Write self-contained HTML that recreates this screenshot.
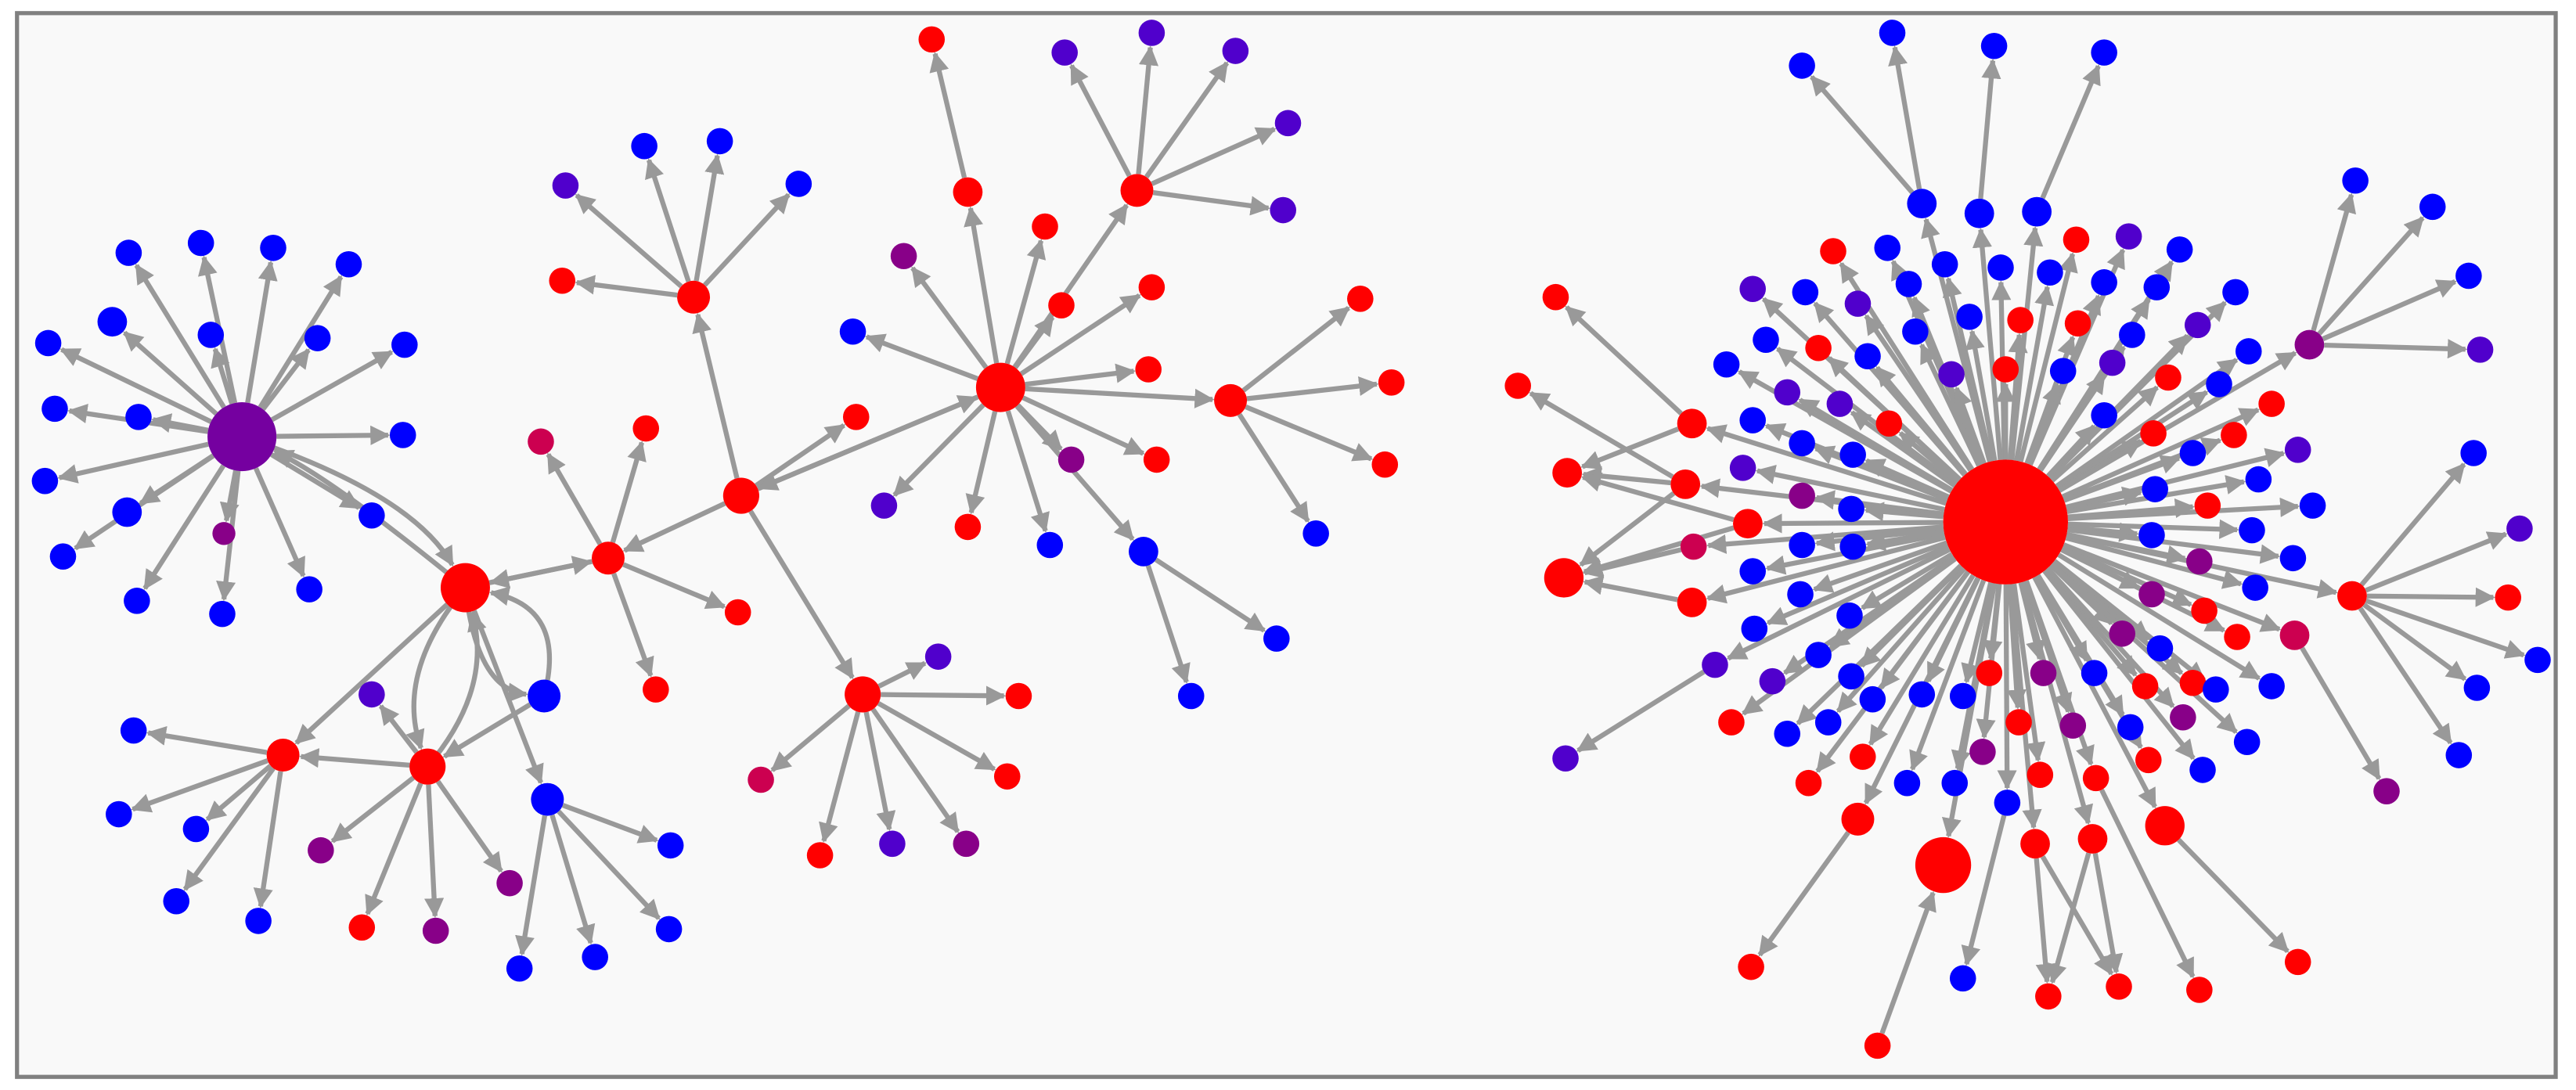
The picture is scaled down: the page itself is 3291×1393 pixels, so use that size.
<!DOCTYPE html>
<html><head><meta charset="utf-8"><style>
html,body{margin:0;padding:0;background:#fff;}
svg{display:block;}
</style></head><body>
<svg id="g" width="3291" height="1393" viewBox="0 0 1568 664" xmlns="http://www.w3.org/2000/svg">
<defs><marker id="a" viewBox="0 0 10 10" refX="9" refY="5" markerWidth="4" markerHeight="4" markerUnits="strokeWidth" orient="auto"><path d="M0,0L10,5L0,10z" fill="#999"/></marker></defs>
<rect x="10" y="8" width="1546" height="648" fill="#f9f9f9" stroke="#808080" stroke-width="2.5"/>
<g id="E" stroke="#999" stroke-width="3" fill="none"></g>
<g id="V"></g>
</svg>
<script>
const C={b:'#0000ff',r:'#ff0000',p:'#7500a0',i:'#5000cc',c:'#cc0050',m:'#880088'};
const N={};
function n(x,y,c,r){r=r||8;N[x+','+y]={x,y,r,c:C[c]};return N[x+','+y];}
function g(x,y){return N[x+','+y];}
const E=document.getElementById('E'),V=document.getElementById('V');
const ns='http://www.w3.org/2000/svg';
function edge(a,b){const dx=b.x-a.x,dy=b.y-a.y,d=Math.hypot(dx,dy);const s=a.r/d,t=(b.r+1)/d;
 const l=document.createElementNS(ns,'line');l.setAttribute('x1',a.x+dx*s);l.setAttribute('y1',a.y+dy*s);l.setAttribute('x2',b.x-dx*t);l.setAttribute('y2',b.y-dy*t);l.setAttribute('marker-end','url(#a)');E.appendChild(l);}
function curve(a,b,cx,cy){const dx=b.x-cx,dy=b.y-cy,d=Math.hypot(dx,dy);const ex=b.x-dx*(b.r+1)/d,ey=b.y-dy*(b.r+1)/d;
 const p=document.createElementNS(ns,'path');p.setAttribute('d',`M${a.x},${a.y}Q${cx},${cy} ${ex},${ey}`);p.setAttribute('marker-end','url(#a)');E.appendChild(p);}
function T(par,kids){kids.forEach(k=>{const c=n(k[0],k[1],k[2]||'b',k[3]);edge(par,c);});}
// LEFT
const P1=n(147,266,'p',21),R1=n(283,358,'r',15),R2=n(370,340,'r',10),R3=n(451,302,'r',11),R4=n(422,181,'r',10),
R5=n(609,236,'r',15),R6=n(525,423,'r',11),R7=n(260,467,'r',11),R8=n(172,460,'r',10),B1=n(331,424,'b',10),B2=n(333,487,'b',10),
R9=n(589,117,'r',9),R10=n(692,116,'r',10),R11=n(749,244,'r',10),B3=n(696,336,'b',9);
T(P1,[[78,154],[122,148],[166,151],[212,161],[246,210],[245,265],[226,314],[188,359],[135,374],[83,366],[38,339],[27,293],[33,249],[29,209],[68,196,'b',9],[128,204],[193,206],[84,254],[77,312,'b',9],[136,325,'m',7]]);
curve(P1,R1,250,300);curve(R1,P1,200,290);
edge(R2,R1);edge(R1,R2);edge(R3,R2);
T(R2,[[329,269,'c'],[393,261,'r'],[449,373,'r'],[399,420,'r']]);
edge(R3,R4);T(R4,[[344,113,'i'],[392,89],[438,86],[486,112],[342,171,'r']]);
edge(R3,R5);T(R3,[[521,254,'r']]);edge(R5,R3);edge(R3,R6);
T(R6,[[571,400,'i'],[620,424,'r'],[613,473,'r'],[588,514,'m'],[543,514,'i'],[499,521,'r'],[463,475,'c']]);
edge(R5,R9);T(R9,[[567,24,'r']]);edge(R5,R10);
T(R10,[[648,32,'i'],[701,20,'i'],[752,31,'i'],[784,75,'i'],[781,128,'i']]);
T(R5,[[636,138,'r'],[646,186,'r'],[701,175,'r'],[699,225,'r'],[704,280,'r'],[652,280,'m'],[639,332],[589,321,'r'],[538,308,'i'],[519,202],[550,156,'m']]);
edge(R5,R11);T(R11,[[828,182,'r'],[847,233,'r'],[843,283,'r'],[801,325]]);
edge(R5,B3);T(B3,[[777,389],[725,424]]);
curve(R1,B1,290,420);curve(B1,R1,345,370);edge(R1,B2);
T(B2,[[408,515],[407,566],[362,583],[316,590]]);
curve(R1,R7,240,410);curve(R7,R1,300,420);edge(B1,R7);edge(R1,R8);edge(R7,R8);
T(R7,[[226,423,'i'],[195,518,'m'],[220,565,'r'],[265,567,'m'],[310,538,'m']]);
T(R8,[[81,445],[72,496],[119,505],[107,549],[157,561]]);
// RIGHT
const H=n(1221,318,'r',38);
const ring=[[1170,124,'b',9],[1205,130,'b',9],[1240,129,'b',9],[1264,146,'r'],[1296,144,'i'],[1327,152],[1116,153,'r'],[1149,151],[1184,161],[1218,163],[1248,166],[1281,172],[1313,175],[1067,176,'i'],[1099,178],[1131,185,'i'],[1162,173],[1199,193],[1230,195,'r'],[1265,197,'r'],[1298,204],[1338,198,'i'],[1361,178],[1075,207],[1107,212,'r'],[1137,217],[1166,202],[1188,228,'i'],[1221,225,'r'],[1256,226],[1286,221,'i'],[1320,230,'r'],[1351,234],[1369,214],[1051,222],[1088,239,'i'],[1120,246,'i'],[1150,258,'r'],[1281,253],[1311,264,'r'],[1335,276],[1360,265,'r'],[1383,246,'r'],[1406,210,'m',9],[1030,258,'r',9],[1067,256],[1097,270],[1128,277],[1061,285,'i'],[1026,295,'r',9],[1064,319,'r',9],[1097,302,'m'],[1127,310],[1312,298],[1344,308,'r'],[1375,292],[1399,274,'i'],[1408,308],[1031,333,'c'],[1067,348],[1097,332],[1128,333],[1310,326],[1339,342,'m'],[1371,323],[1396,340],[1030,367,'r',9],[1068,383],[1096,362],[1126,375],[1310,362,'m'],[1342,372,'r'],[1373,358],[1432,363,'r',9],[1044,405,'i'],[1079,415,'i'],[1107,399],[1127,412],[1292,386,'m'],[1315,395],[1362,388,'r'],[1397,387,'c',9],[1054,440,'r'],[1088,447],[1113,440],[1140,426],[1170,423],[1195,424],[1211,410,'r'],[1244,410,'m'],[1275,410],[1306,418,'r'],[1335,416,'r'],[1349,420],[1383,418],[1134,461,'r'],[1161,477],[1190,477],[1229,440,'r'],[1262,442,'m'],[1297,443],[1329,437,'m'],[1207,458,'m'],[1242,472,'r'],[1276,474,'r'],[1308,463,'r'],[1341,469],[1368,452],[1222,489],[1101,477,'r'],[1131,499,'r',10],[1183,527,'r',17],[1239,514,'r',9],[1274,511,'r',9],[1318,503,'r',12]];
T(H,ring);
function R(a,b,c){return g(a,b);}
T(g(1170,124),[[1097,40],[1152,20]]);T(g(1205,130),[[1214,28]]);T(g(1240,129),[[1281,32]]);
T(g(1030,258),[[947,181,'r']]);T(g(1026,295),[[924,235,'r'],[954,288,'r',9]]);
n(952,352,'r',12);
edge(g(1064,319),g(954,288));edge(g(1064,319),g(952,352));edge(g(1031,333),g(952,352));edge(g(1030,367),g(952,352));edge(g(1030,258),g(954,288));edge(g(1026,295),g(952,352));
T(g(1406,210),[[1434,110],[1481,126],[1503,168],[1510,213,'i']]);
T(g(1432,363),[[1506,276],[1534,322,'i'],[1527,364,'r'],[1545,402],[1508,419],[1497,460]]);
T(g(1397,387),[[1453,482,'m']]);T(g(1044,405),[[953,462,'i']]);
T(g(1131,499),[[1066,589,'r']]);n(1143,637,'r');edge(g(1143,637),g(1183,527));
T(g(1222,489),[[1195,596]]);T(g(1239,514),[[1247,607,'r'],[1290,601,'r']]);
edge(g(1274,511),g(1247,607));edge(g(1274,511),g(1290,601));
T(g(1276,474),[[1339,603,'r']]);T(g(1318,503),[[1399,586,'r']]);
for(const k in N){const o=N[k];const c=document.createElementNS(ns,'circle');c.setAttribute('cx',o.x);c.setAttribute('cy',o.y);c.setAttribute('r',o.r);c.setAttribute('fill',o.c);V.appendChild(c);}
</script>
</body></html>
